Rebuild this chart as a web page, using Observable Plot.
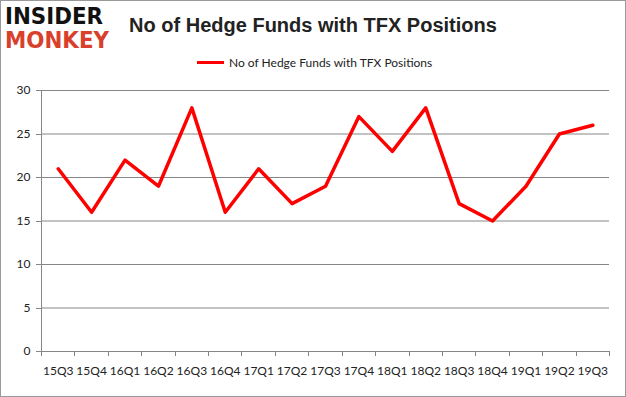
<!DOCTYPE html>
<html><head><meta charset="utf-8">
<script src="https://cdn.jsdelivr.net/npm/d3@7"></script>
<script src="https://cdn.jsdelivr.net/npm/@observablehq/plot@0.6"></script>
<style>
html,body{margin:0;padding:0;background:#fff;}
#wrap{position:relative;width:626px;height:397px;overflow:hidden;}
#frame{position:absolute;left:0;top:0;width:624px;height:395px;border:1px solid #999;}
#logo1,#logo2{position:absolute;left:5px;font-family:"DejaVu Sans",sans-serif;font-weight:900;font-size:23px;letter-spacing:0px;line-height:1;transform:scaleX(0.93);transform-origin:left;}
#logo1{top:5px;color:#111;}
#logo2{top:29px;color:#d9402b;}
#title{position:absolute;left:0;width:626px;top:14px;text-align:center;font-family:"Liberation Sans",Arial,sans-serif;font-weight:bold;font-size:20px;color:#222;}
#legend{position:absolute;top:55px;left:197px;font-family:Lato,"Open Sans",sans-serif;font-size:12px;color:#222;display:flex;align-items:center;}
#legend span.sw{display:inline-block;width:27px;height:3px;background:#ff0000;margin-right:5px;}
svg{position:absolute;left:0;top:0;}
</style></head>
<body><div id="wrap"><div id="frame"></div>
<div id="logo1">INSIDER</div><div id="logo2">MONKEY</div>
<div id="title">No of Hedge Funds with TFX Positions</div>
<div id="legend"><span class="sw"></span>No of Hedge Funds with TFX Positions</div>
<div id="chart"></div></div>
<script>
const quarters = ["15Q3","15Q4","16Q1","16Q2","16Q3","16Q4","17Q1","17Q2","17Q3","17Q4","18Q1","18Q2","18Q3","18Q4","19Q1","19Q2","19Q3"];
const funds = [21,16,22,19,28,16,21,17,19,27,23,28,17,15,19,25,26];
const yTicks = [0,5,10,15,20,25,30];

const data = quarters.map((q,i)=>({q, i, x:i+0.5, v:funds[i]}));
const bounds = d3.range(quarters.length+1);

const chart = Plot.plot({
  width:626, height:397,
  marginLeft:41, marginRight:17, marginTop:90, marginBottom:46,
  style:{fontFamily:"Lato, 'Open Sans', sans-serif", fontSize:"12px", color:"#222", background:"transparent"},
  x:{type:"linear", domain:[0,quarters.length], axis:null},
  y:{type:"linear", domain:[0,30], axis:null},
  marks:[
    Plot.ruleY(yTicks, {y:d=>d, stroke:"#868686", strokeWidth:1, strokeOpacity:1}),
    Plot.ruleX([0], {x:d=>d, stroke:"#868686", strokeWidth:1, strokeOpacity:1}),
    Plot.text(yTicks, {x:0, y:d=>d, text:d=>String(d), textAnchor:"end", dx:-11, fill:"#222"}),
    Plot.text(data, {x:"x", y:0, text:"q", dy:20, fill:"#222"}),
    Plot.line(data, {x:"x", y:"v", stroke:"#ff0000", strokeWidth:3.5})
  ]
});
const sx = chart.scale("x"), sy = chart.scale("y");
document.getElementById("chart").appendChild(chart);
const svg = d3.select(chart);
const g = svg.append("g").attr("stroke","#868686");
yTicks.forEach(t=>g.append("line").attr("x1",sx.apply(0)-5).attr("x2",sx.apply(0)).attr("y1",Math.round(sy.apply(t))+0.5).attr("y2",Math.round(sy.apply(t))+0.5));
bounds.forEach(b=>g.append("line").attr("x1",Math.round(sx.apply(b))+0.5).attr("x2",Math.round(sx.apply(b))+0.5).attr("y1",sy.apply(0)).attr("y2",sy.apply(0)+5));
</script></body></html>
